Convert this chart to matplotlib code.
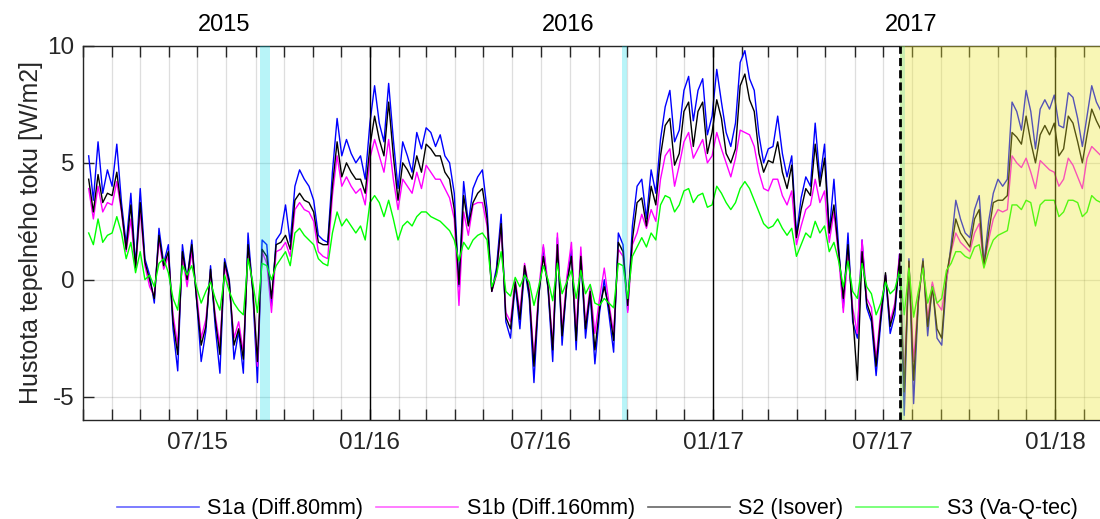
import numpy as np
import matplotlib.pyplot as plt

plt.rcParams['font.family'] = ['Liberation Sans', 'DejaVu Sans']
plt.rcParams['axes.unicode_minus'] = False

# samples every 5 days, first one on 2015-03-07
start_date = np.datetime64('2015-03-07')
step_days = 5

s1a = [5.3, 3.4, 5.9, 3.7, 4.7, 4.0, 5.8, 3.3, 1.5, 3.7,
       0.6, 3.9, 0.9, 0.2, -1.0, 2.2, 0.7, 1.5, -2.1, -3.9,
       1.5, 0.0, 1.7, -0.8, -3.5, -2.2, 0.6, -2.0, -4.0, 0.9,
       0.0, -3.4, -2.2, -4.0, 2.0, -0.5, -4.4, 1.7, 1.5, -1.1,
       1.7, 2.0, 3.2, 1.6, 4.0, 4.7, 4.3, 4.0, 3.4, 1.9,
       1.7, 1.6, 4.6, 6.9, 5.3, 6.0, 5.4, 5.0, 5.3, 4.3,
       6.7, 8.3, 6.7, 5.9, 8.4, 6.0, 3.9, 5.9, 5.3, 4.6,
       6.3, 5.6, 6.5, 6.3, 5.7, 6.2, 5.3, 5.0, 3.7, -0.3,
       4.2, 2.4, 3.9, 4.4, 4.7, 3.0, -0.5, 0.5, 2.8, -1.8,
       -2.5, -0.2, -2.1, 0.5, -0.8, -4.4, -0.8, 1.4, -0.4, -3.5,
       1.8, -2.8, -0.2, 1.3, -3.0, 1.1, -2.5, -0.6, -3.6, -1.4,
       0.0, -1.5, -3.1, 2.0, 1.5, -1.3, 2.3, 4.0, 4.3, 2.6,
       4.7, 3.7, 6.0, 7.4, 8.1, 5.9, 6.4, 8.1, 8.7, 6.8,
       8.1, 8.6, 6.2, 7.0, 9.0, 7.6, 6.3, 5.7, 6.7, 9.3,
       9.8, 8.6, 8.1, 6.2, 5.0, 5.6, 5.7, 7.0, 5.4, 4.4,
       5.3, 1.9, 3.5, 4.4, 4.0, 6.7, 4.3, 5.8, 2.0, 4.3,
       1.4, -1.2, 2.0, -1.8, -2.5, 1.7, -1.2, -1.8, -4.1, -1.8,
       0.2, -2.3, -1.5, 1.1, -5.8, 0.9, -5.3, -1.0, 0.9, -2.4,
       -0.2, -2.5, -2.8, -0.1, 1.5, 3.4, 2.6, 2.0, 1.8, 3.0,
       3.6, 0.7, 2.5, 3.7, 4.3, 4.0, 4.3, 7.6, 7.2, 6.4,
       8.1, 7.2, 5.6, 7.3, 7.7, 7.3, 7.9, 6.6, 6.5, 8.0,
       7.8, 6.9, 5.7, 7.0, 8.3, 7.6, 7.2]

s1b = [3.9, 2.6, 4.0, 2.9, 3.3, 3.2, 4.2, 2.9, 1.2, 2.6,
       0.45, 3.0, 0.6, -0.3, -0.7, 1.7, 0.45, 1.0, -1.5, -2.8,
       1.0, -0.3, 1.2, -0.5, -2.5, -1.7, 0.3, -1.5, -2.8, 0.6,
       -0.3, -2.5, -1.8, -3.1, 1.3, -0.3, -3.7, 1.2, 0.7, -1.4,
       1.2, 1.3, 1.6, 1.0, 3.0, 3.3, 3.0, 2.9, 2.5, 1.2,
       1.0, 0.9, 3.6, 5.3, 4.0, 4.4, 4.0, 3.7, 3.9, 3.2,
       5.2, 6.0, 5.3, 4.6, 6.0, 4.3, 3.0, 4.3, 4.0, 3.7,
       4.6, 3.9, 4.9, 4.6, 4.3, 4.3, 3.9, 3.5, 2.6, -1.1,
       2.9, 1.9, 3.2, 3.3, 3.3, 2.3, -0.5, 0.2, 2.3, -1.4,
       -1.8, 0.0, -1.4, 0.7, -0.4, -3.4, -0.5, 1.5, -0.2, -2.8,
       2.0, -2.2, 0.1, 1.6, -2.3, 1.4, -1.9, -0.3, -2.3, -0.8,
       0.5, -1.0, -2.3, 1.3, 1.0, -1.4, 1.5, 2.0, 2.8, 2.2,
       3.0, 2.5, 4.3, 5.3, 5.6, 4.0, 4.9, 5.9, 6.3, 5.2,
       5.6, 6.0, 5.0, 5.3, 6.3, 5.6, 5.0, 4.4, 5.2, 6.4,
       6.3, 6.2, 5.7, 4.6, 3.9, 3.8, 4.3, 4.3, 3.6, 3.2,
       3.8, 1.5, 2.3, 3.0, 3.2, 4.3, 3.3, 3.8, 1.6, 2.9,
       1.0, -1.4, 1.2, -1.2, -2.3, 1.7, -0.8, -1.2, -3.4, -1.3,
       0.2, -1.8, -1.0, 1.1, -4.2, 0.7, -3.5, -0.8, 0.7, -1.7,
       -0.1, -1.0, -1.3, 0.0, 1.2, 2.0, 1.6, 1.4, 1.2, 2.0,
       2.4, 0.6, 1.7, 2.6, 3.0, 2.9, 3.0, 5.3, 5.0, 4.8,
       5.2, 4.6, 3.9, 5.1, 4.9, 4.7, 4.6, 4.0, 4.3, 5.2,
       4.9, 4.4, 3.9, 5.2, 5.7, 5.5, 5.3]

s2 = [4.3, 2.9, 4.5, 3.3, 3.7, 3.6, 4.6, 3.0, 1.3, 3.2,
      0.5, 3.3, 0.75, 0.0, -0.8, 1.9, 0.6, 1.2, -1.8, -3.2,
      1.2, 0.0, 1.5, -0.8, -2.8, -2.0, 0.45, -1.7, -3.2, 0.75,
      -0.1, -2.8, -2.1, -3.4, 1.5, -0.4, -3.5, 1.3, 1.0, -0.8,
      1.5, 1.6, 1.9, 1.3, 3.4, 3.7, 3.4, 3.3, 2.9, 1.6,
      1.5, 1.5, 4.0, 5.9, 4.4, 5.0, 4.6, 4.3, 4.3, 3.7,
      5.7, 7.0, 6.0, 5.3, 7.6, 5.3, 3.4, 5.0, 4.7, 4.3,
      5.3, 4.6, 5.8, 5.6, 5.3, 5.3, 4.6, 4.3, 3.0, -0.2,
      3.6, 2.3, 3.3, 3.7, 3.9, 2.6, -0.5, 0.3, 2.4, -1.6,
      -2.1, -0.1, -1.7, 0.6, -0.6, -3.7, -0.7, 1.0, -0.3, -3.0,
      1.5, -2.4, -0.2, 1.0, -2.6, 1.0, -2.1, -0.5, -3.0, -1.2,
      -0.3, -1.2, -2.6, 1.6, 1.2, -1.1, 1.7, 3.3, 3.5, 2.3,
      4.0, 3.2, 5.3, 6.6, 6.9, 4.9, 5.4, 7.2, 7.6, 5.7,
      7.2, 7.6, 5.4, 6.3, 7.7, 6.9, 5.4, 5.0, 5.6, 8.3,
      8.8, 7.7, 7.2, 5.4, 4.6, 5.1, 5.0, 5.9, 4.6, 3.9,
      4.9, 1.8, 3.0, 3.9, 3.6, 5.8, 4.0, 5.2, 2.0, 3.2,
      1.2, -0.8, 1.5, -1.5, -4.3, 1.2, -1.0, -1.6, -3.7, -1.6,
      0.3, -2.0, -1.2, 0.9, -4.8, 0.8, -4.3, -0.9, 0.8, -2.0,
      -0.3, -2.1, -2.5, 0.2, 1.3, 2.6, 2.0, 1.7, 1.4, 2.6,
      3.0, 0.6, 2.0, 3.3, 3.4, 3.4, 3.6, 6.3, 6.1, 5.8,
      7.0, 5.9, 5.0, 6.2, 6.6, 6.2, 6.7, 5.3, 5.6, 7.0,
      6.7, 5.9, 5.0, 6.2, 7.3, 6.8, 6.4]

s3 = [2.0, 1.5, 2.6, 1.6, 1.9, 2.0, 2.7, 2.0, 0.9, 1.6,
      0.3, 1.2, 0.0, 0.2, -0.3, 0.7, 0.9, 0.3, -0.8, -1.3,
      0.6, 0.2, 0.6, -0.3, -1.0, -0.5, -0.1, -0.8, -1.3, 0.2,
      -0.5, -1.0, -1.3, -1.5, 0.9, -0.1, -1.4, 0.7, 0.6, 0.0,
      0.6, 0.9, 1.2, 0.6, 2.0, 2.2, 1.9, 1.7, 1.5, 0.9,
      0.7, 0.6, 2.0, 2.9, 2.3, 2.6, 2.3, 2.0, 2.3, 1.7,
      3.3, 3.6, 3.3, 2.7, 3.4, 2.6, 1.7, 2.3, 2.5, 2.3,
      2.7, 2.9, 2.9, 2.7, 2.6, 2.5, 2.3, 2.1, 1.7, 0.8,
      1.6, 1.3, 1.7, 1.9, 2.0, 1.7, -0.3, 0.2, 1.2, -0.5,
      -0.7, 0.1, -0.3, 0.2, -0.1, -1.1, -0.3, 0.6, 0.0, -0.9,
      0.7, -0.6, -0.1, 0.4, -0.8, 0.4, -0.6, -0.2, -1.0, -1.1,
      -0.8, -1.0, -1.2, 0.7, 0.6, -0.8, 1.0, 1.4, 1.8, 1.4,
      2.0, 1.7, 3.2, 3.6, 3.5, 2.9, 3.2, 3.8, 3.9, 3.3,
      3.6, 3.7, 3.1, 3.2, 4.0, 3.7, 3.3, 3.0, 3.3, 3.9,
      4.2, 3.9, 3.4, 2.9, 2.4, 2.2, 2.3, 2.6, 2.2, 1.9,
      2.2, 1.0, 1.5, 2.0, 1.8, 2.5, 2.0, 2.3, 1.2, 1.6,
      0.8, -0.3, 0.8, -0.5, -0.8, 0.7, -0.3, -0.6, -1.5, -1.0,
      -0.1, -0.6, -0.4, 0.4, -1.5, 0.5, -1.6, -0.5, 0.5, -1.0,
      -0.3, -1.0, -0.8, 0.4, 0.7, 1.2, 1.2, 1.0, 0.9, 1.4,
      1.5, 0.5, 1.2, 1.7, 1.9, 2.0, 2.1, 3.2, 3.2, 3.0,
      3.4, 3.3, 2.3, 3.2, 3.4, 3.4, 3.4, 2.7, 2.9, 3.4,
      3.4, 3.3, 2.7, 2.9, 3.6, 3.4, 3.3]

series = [s1a, s1b, s2, s3]
names = ['S1a (Diff.80mm)', 'S1b (Diff.160mm)', 'S2 (Isover)', 'S3 (Va-Q-tec)']
colors = [(0, 0, 1), (1, 0, 1), (0, 0, 0), (0, 1, 0)]

year_names = ['2015', '2016', '2017']
year_label_dates = ['2015-07-30', '2016-07-30', '2017-07-31']
year_lines = ['2016-01-01', '2017-01-01', '2018-01-01']
cyan_spans = [('2015-09-06', '2015-09-16'), ('2016-09-26', '2016-10-01'),
              ('2017-07-20', '2017-07-25')]
change_date = '2017-07-19'
x_start, x_end = '2015-03-01', '2018-02-19'

dates = start_date + np.arange(len(s1a)) * np.timedelta64(step_days, 'D')

fig = plt.figure(figsize=(11, 5.19), dpi=100)
ax = fig.add_axes([0.0755, 0.1908, 0.9255, 0.7206])

for vals, name, c in zip(series, names, colors):
    ax.plot(dates, vals, color=c, lw=1.0, label=name, zorder=2)

for d in year_lines:
    ax.axvline(np.datetime64(d), color='k', lw=1.0, zorder=2.5)

for a, b in cyan_spans:
    ax.axvspan(np.datetime64(a), np.datetime64(b), color=(0, 0.85, 0.9),
               alpha=0.28, lw=0, zorder=3)
ax.axvspan(np.datetime64(change_date), np.datetime64(x_end),
           color=(0.93, 0.91, 0.2), alpha=0.36, lw=0, zorder=3.2)
ax.axvline(np.datetime64(change_date), color='k', lw=2.0,
           dashes=(2.9, 1.5), zorder=4)

ax.set_xlim(np.datetime64(x_start), np.datetime64(x_end))
ax.set_ylim(-6, 10)
ax.set_yticks([-5, 0, 5, 10])

months = np.arange('2015-03', '2018-03', dtype='datetime64[M]')
labels = []
for m in months:
    s = str(m)
    mon = int(s[5:7])
    labels.append(f'{mon:02d}/{s[2:4]}' if mon in (1, 7) else '')
ax.set_xticks(months.astype('datetime64[D]'))
ax.set_xticklabels(labels)

dark = (0.15, 0.15, 0.15)
ax.tick_params(axis='both', direction='in', length=8, width=1, colors=dark,
               labelsize=17.5, top=True, right=False, pad=9)
ax.tick_params(axis='y', pad=6)
ax.grid(True, color=dark, alpha=0.15, lw=0.9)
ax.set_axisbelow(True)
for side in ['left', 'top', 'bottom']:
    ax.spines[side].set_color(dark)
    ax.spines[side].set_linewidth(1.0)
ax.spines['right'].set_visible(False)

ax.set_ylabel('Hustota tepelného toku [W/m2]', fontsize=18, color=dark, labelpad=3)

for name, d in zip(year_names, year_label_dates):
    ax.text(np.datetime64(d), 1.057, name, transform=ax.get_xaxis_transform(),
            ha='center', va='center', fontsize=17, color='k')

handles = [plt.Line2D([], [], color=c, lw=1.2, alpha=0.6) for c in colors]
fig.legend(handles, names, loc='center', bbox_to_anchor=(0.543, 0.02),
           ncol=4, frameon=False, fontsize=15.5, handlelength=3.8,
           columnspacing=0.6, handletextpad=0.4)

fig.savefig('out.png', dpi=100)
